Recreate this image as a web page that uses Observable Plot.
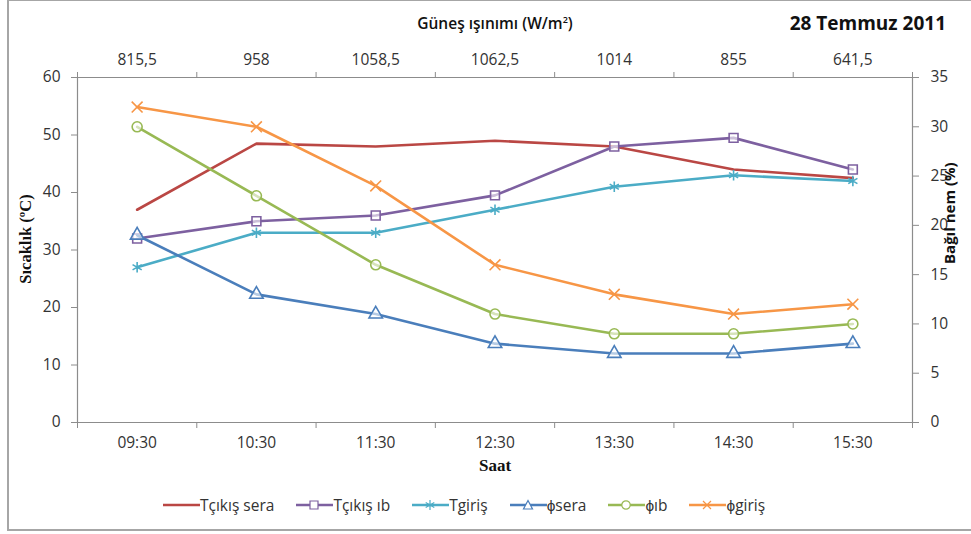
<!DOCTYPE html>
<html><head><meta charset="utf-8">
<script src="https://cdn.jsdelivr.net/npm/d3@7"></script>
<script src="https://cdn.jsdelivr.net/npm/@observablehq/plot@0.6"></script>
<style>
body{margin:0;background:#fff;font-family:"Open Sans",sans-serif;}
#wrap{position:relative;width:971px;height:534px;overflow:hidden;background:#fff;}
#frame{position:absolute;left:7px;top:-1px;width:990px;height:532px;border:2px solid #a6a6a6;box-sizing:border-box;}
#chart{position:absolute;left:0;top:0;}
.lbl{position:absolute;color:#111;white-space:nowrap;}
#legend{position:absolute;left:163px;top:494px;display:flex;gap:22px;align-items:center;font-size:15.5px;color:#333;}
#legend .it{display:flex;align-items:center;}
</style></head>
<body>
<div id="wrap">
<div id="frame"></div>
<div id="chart"></div>
<div class="lbl" style="left:395px;top:12px;width:200px;text-align:center;font-size:15.5px;font-weight:600;">Güneş ışınımı (W/m<sup style="font-size:9px">2</sup>)</div>
<div class="lbl" style="right:25px;top:10px;font-size:19px;font-weight:700;">28 Temmuz 2011</div>
<div class="lbl" style="left:445px;top:456px;width:100px;text-align:center;font-family:'Liberation Serif',serif;font-weight:700;font-size:17px;">Saat</div>
<div class="lbl" style="left:-24px;top:229px;width:100px;text-align:center;transform:rotate(-90deg);font-family:'Liberation Serif',serif;font-weight:700;font-size:16.5px;">Sıcaklık (ºC)</div>
<div class="lbl" style="left:899px;top:204px;width:100px;text-align:center;transform:rotate(-90deg);font-weight:700;font-size:15px;">Bağıl nem (%)</div>
<div id="legend"></div>
</div>
<script>
// ---- data ----
const times = ["09:30","10:30","11:30","12:30","13:30","14:30","15:30"];
const radiation = ["815,5","958","1058,5","1062,5","1014","855","641,5"];
const tempTicks = [0,10,20,30,40,50,60];
const humTicks = [0,5,10,15,20,25,30,35];
const tCikisSera = [37,48.5,48,49,48,44,42.5];
const tCikisIb = [32,35,36,39.5,48,49.5,44];
const tGiris = [27,33,33,37,41,43,42];
const phiSera = [19,13,11,8,7,7,8];
const phiIb = [30,23,16,11,9,9,10];
const phiGiris = [32,30,24,16,13,11,12];

const seriesNames = ["Tçıkış sera","Tçıkış ıb","Tgiriş","ϕsera","ϕıb","ϕgiriş"];
const seriesValues = [tCikisSera,tCikisIb,tGiris,phiSera,phiIb,phiGiris];
const seriesColors = ["#BA4744","#7D60A0","#4BACC6","#4A7EBB","#98B954","#F79646"];
const seriesSymbols = [null,"square","asterisk","triangle","circle","times"];
const seriesAxis = ["T","T","T","H","H","H"];

const T_MAX = 60, H_MAX = 35;
const toLeft = v => v * T_MAX / H_MAX;

const marks = [];
// axis frame lines
marks.push(Plot.ruleY([0, T_MAX], {stroke:"#8c8c8c", strokeWidth:1.2}));
marks.push(Plot.ruleX([-0.5, 6.5], {stroke:"#8c8c8c", strokeWidth:1.2}));
// left axis
marks.push(Plot.axisY(tempTicks, {anchor:"left", tickSize:6, tickFormat:()=>"", stroke:"#8c8c8c", label:null}));
marks.push(Plot.axisY(tempTicks, {anchor:"left", tickSize:0, tickPadding:17, fill:"#333", fontSize:15.5, label:null}));
// right axis
marks.push(Plot.axisY(humTicks.map(toLeft), {anchor:"right", tickSize:6, tickFormat:()=>"", stroke:"#8c8c8c", label:null}));
marks.push(Plot.axisY(humTicks.map(toLeft), {anchor:"right", tickSize:0, tickPadding:18, fill:"#333", fontSize:15.5, tickFormat:(d,i)=>String(humTicks[i]), label:null}));
// bottom axis
const bounds = d3.range(-0.5, 7, 1);
const idx = d3.range(times.length);
marks.push(Plot.axisX(bounds, {anchor:"bottom", tickSize:6, tickFormat:()=>"", stroke:"#8c8c8c", label:null}));
marks.push(Plot.axisX(idx, {anchor:"bottom", tickSize:0, tickPadding:14, fill:"#333", fontSize:15.5, tickFormat:i=>times[i], label:null}));
// top axis
marks.push(Plot.axisX(bounds, {anchor:"top", tickSize:6, tickFormat:()=>"", stroke:"#8c8c8c", label:null}));
marks.push(Plot.axisX(idx, {anchor:"top", tickSize:0, tickPadding:13, fill:"#333", fontSize:15.5, tickFormat:i=>radiation[i], label:null}));

seriesNames.forEach((name, s) => {
  const rows = seriesValues[s].map((v, i) => ({i, v}));
  const yf = seriesAxis[s] === "T" ? (d => d.v) : (d => toLeft(d.v));
  marks.push(Plot.line(rows, {x:"i", y:yf, stroke:seriesColors[s], strokeWidth:2.6, curve:"linear"}));
  if (seriesSymbols[s]) {
    marks.push(Plot.dot(rows, {x:"i", y:yf, symbol:()=>seriesSymbols[s], r:5, stroke:seriesColors[s], fill:"white", fillOpacity:0.6, strokeWidth:1.6}));
  }
});

const plot = Plot.plot({
  width: 971,
  height: 470,
  marginLeft: 77,
  marginRight: 59,
  marginTop: 77,
  marginBottom: 48,
  x: {type:"linear", domain:[-0.5, 6.5], axis:null},
  y: {domain:[0, T_MAX], axis:null},
  symbol: {type:"identity"},
  style: {fontFamily:"'Open Sans', sans-serif", fontSize:"15.5px", background:"transparent", overflow:"visible"},
  marks
});
document.getElementById("chart").appendChild(plot);

// legend
const lg = document.getElementById("legend");
const symPath = {
  square: "M14,2 h8 v8 h-8 z",
  asterisk: "M18,1 v10 M13.7,3.5 l8.6,5 M13.7,8.5 l8.6,-5",
  triangle: "M18,1.5 l4.5,8.5 h-9 z",
  circle: "",
  times: "M14,2 l8,8 M22,2 l-8,8"
};
seriesNames.forEach((name, s) => {
  const it = document.createElement("div");
  it.className = "it";
  const c = seriesColors[s];
  let sym = "";
  const sy = seriesSymbols[s];
  if (sy === "circle") sym = `<circle cx="18" cy="6" r="4.2" fill="white" stroke="${c}" stroke-width="1.2"/>`;
  else if (sy) sym = `<path d="${symPath[sy]}" fill="${sy==='asterisk'||sy==='times'?'none':'white'}" stroke="${c}" stroke-width="1.2"/>`;
  it.innerHTML = `<svg width="37" height="12" style="display:block"><line x1="0" x2="37" y1="6" y2="6" stroke="${c}" stroke-width="2.6"/>${sym}</svg><span>${name}</span>`;
  lg.appendChild(it);
});
</script>
</body></html>
